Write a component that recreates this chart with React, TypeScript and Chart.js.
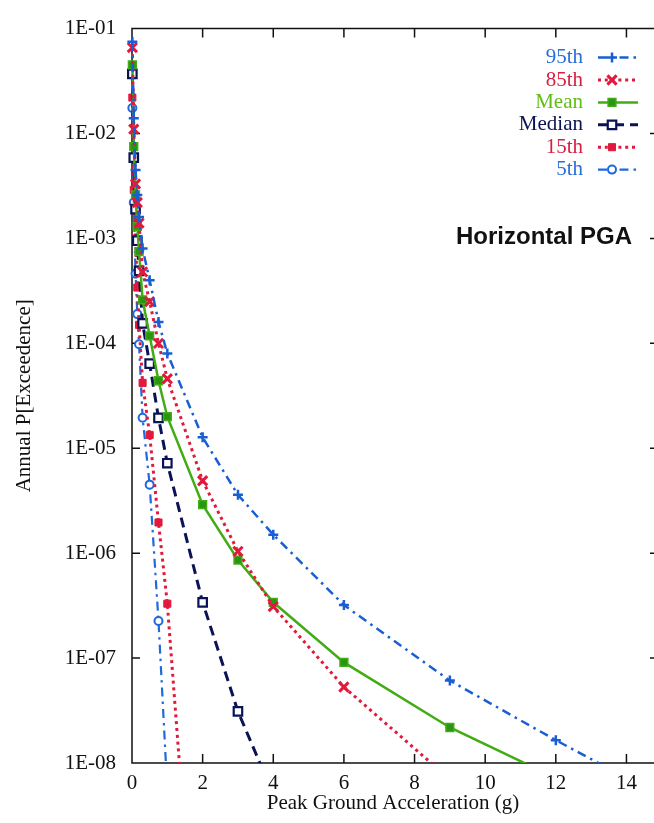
import React, { useEffect, useRef } from 'react';
import { Chart, registerables } from 'chart.js';

Chart.register(...registerables);

// ---- data ----
const PGA = [0.01, 0.05, 0.1, 0.15, 0.2, 0.3, 0.5, 0.75, 1, 2, 3, 4, 6, 9, 12, 14];
const P95 = [7.5e-2, 1.4e-2, 4.5e-3, 2.6e-3, 1.6e-3, 8.0e-4, 4.0e-4, 1.6e-4, 8.0e-5, 1.27e-5, 3.6e-6, 1.5e-6, 3.2e-7, 6.1e-8, 1.65e-8, 7.2e-9];
const P85 = [6.6e-2, 1.1e-2, 3.3e-3, 2.2e-3, 1.4e-3, 4.8e-4, 2.5e-4, 1.0e-4, 4.6e-5, 4.9e-6, 1.04e-6, 3.1e-7, 5.3e-8, 7.0e-9, null, null];
const MEAN = [4.5e-2, 7.5e-3, 2.6e-3, 1.3e-3, 7.5e-4, 2.6e-4, 1.18e-4, 4.4e-5, 2.0e-5, 2.9e-6, 8.6e-7, 3.4e-7, 9.1e-8, 2.18e-8, 7.2e-9, null];
const MEDIAN = [3.7e-2, 5.9e-3, 1.9e-3, 9.5e-4, 4.9e-4, 1.55e-4, 6.4e-5, 1.95e-5, 7.2e-6, 3.4e-7, 3.1e-8, 5.0e-9, null, null, null, null];
const P15 = [2.2e-2, 2.9e-3, 1.0e-3, 3.4e-4, 1.5e-4, 4.2e-5, 1.34e-5, 1.96e-6, 3.3e-7, 1.2e-11, null, null, null, null, null, null];
const P5 = [1.75e-2, 2.2e-3, 4.6e-4, 1.9e-4, 9.8e-5, 1.95e-5, 4.5e-6, 2.26e-7, 5.5e-9, null, null, null, null, null, null, null];

const SERIES_LABELS = ['95th', '85th', 'Mean', 'Median', '15th', '5th'];
const X_TICKS = [0, 2, 4, 6, 8, 10, 12, 14];
const Y_TICKS = [1e-8, 1e-7, 1e-6, 1e-5, 1e-4, 1e-3, 1e-2, 1e-1];
const Y_TICK_LABELS = ['1E-08', '1E-07', '1E-06', '1E-05', '1E-04', '1E-03', '1E-02', '1E-01'];
const X_TITLE = 'Peak Ground Acceleration (g)';
const Y_TITLE = 'Annual P[Exceedence]';
const PANEL_TITLE = 'Horizontal PGA';

const SERIF = '"Liberation Serif", "Times New Roman", serif';

const pts = (arr: (number | null)[]) =>
  PGA.map((x, i) => ({ x, y: arr[i] })).filter((p) => p.y !== null) as { x: number; y: number }[];

function drawMarker(ctx: CanvasRenderingContext2D, style: string, x: number, y: number, r: number, border: string, fill: string, bw: number) {
  ctx.save();
  ctx.setLineDash([]);
  ctx.lineWidth = bw;
  ctx.strokeStyle = border;
  ctx.fillStyle = fill;
  ctx.beginPath();
  if (style === 'cross') {
    ctx.moveTo(x - r, y); ctx.lineTo(x + r, y);
    ctx.moveTo(x, y - r); ctx.lineTo(x, y + r);
    ctx.stroke();
  } else if (style === 'crossRot') {
    const o = r * Math.SQRT1_2;
    ctx.moveTo(x - o, y - o); ctx.lineTo(x + o, y + o);
    ctx.moveTo(x + o, y - o); ctx.lineTo(x - o, y + o);
    ctx.stroke();
  } else if (style === 'rect') {
    const s = r * Math.SQRT1_2;
    ctx.rect(x - s, y - s, 2 * s, 2 * s);
    ctx.fill(); ctx.stroke();
  } else {
    ctx.arc(x, y, r, 0, Math.PI * 2);
    ctx.fill(); ctx.stroke();
  }
  ctx.restore();
}

const framePlugin = {
  id: 'frame',
  beforeDatasetsDraw(chart: any) {
    const { ctx, chartArea: a, scales } = chart;
    const xs = scales.x, ys = scales.y;
    ctx.save();
    ctx.strokeStyle = '#111';
    ctx.lineWidth = 1.5;
    ctx.beginPath();
    ctx.moveTo(a.right, a.top); ctx.lineTo(a.left, a.top); ctx.lineTo(a.left, a.bottom); ctx.lineTo(a.right, a.bottom);
    xs.ticks.forEach((t: any) => {
      const px = xs.getPixelForValue(t.value);
      ctx.moveTo(px, a.bottom); ctx.lineTo(px, a.bottom - 9);
      ctx.moveTo(px, a.top); ctx.lineTo(px, a.top + 9);
    });
    ys.ticks.forEach((t: any) => {
      const py = ys.getPixelForValue(t.value);
      ctx.moveTo(a.left, py); ctx.lineTo(a.left + 8, py);
      ctx.moveTo(a.right, py); ctx.lineTo(a.right - 4, py);
    });
    ctx.stroke();
    ctx.restore();
  },
  afterDraw(chart: any) {
    const { ctx, chartArea: a, scales } = chart;
    ctx.save();
    ctx.font = 'bold 24px "Liberation Sans", Arial, sans-serif';
    ctx.fillStyle = '#111';
    ctx.textAlign = 'left';
    ctx.textBaseline = 'middle';
    ctx.fillText(PANEL_TITLE, a.left + 324, scales.y.getPixelForValue(1e-3) - 1);

    chart.data.datasets.forEach((ds: any, i: number) => {
      const y = a.top + 29 + i * 22.4;
      ctx.font = '21px ' + SERIF;
      ctx.textAlign = 'right';
      ctx.textBaseline = 'middle';
      ctx.fillStyle = ds.legendColor;
      ctx.fillText(ds.label, a.right - 71, y);
      ctx.save();
      ctx.strokeStyle = ds.borderColor;
      ctx.lineWidth = ds.borderWidth;
      ctx.setLineDash(ds.borderDash || []);
      ctx.beginPath();
      ctx.moveTo(a.right - 56, y);
      ctx.lineTo(a.right - 16, y);
      ctx.stroke();
      ctx.restore();
      drawMarker(ctx, ds.pointStyle, a.right - 42, y, ds.pointRadius, ds.pointBorderColor, ds.pointBackgroundColor, ds.pointBorderWidth);
    });
    ctx.restore();
  },
};

const C95 = 'rgb(25,95,210)';
const C85 = 'rgb(225,25,60)';
const CMEAN = 'rgb(65,172,20)';
const CMED = 'rgb(10,20,85)';
const C15 = 'rgb(225,25,60)';
const C5 = 'rgb(30,105,220)';

export default function App() {
  const ref = useRef<HTMLCanvasElement>(null);
  useEffect(() => {
    document.body.style.margin = '0';
    const clip = { left: 12, top: 12, right: 0, bottom: 0 };
    const chart = new Chart(ref.current as HTMLCanvasElement, {
      type: 'line',
      data: {
        datasets: [
          {
            label: SERIES_LABELS[0], data: pts(P95), borderColor: C95, borderWidth: 2.5, borderDash: [9, 5, 2.5, 5],
            pointStyle: 'cross', pointRadius: 5, pointBorderColor: C95, pointBackgroundColor: C95, pointBorderWidth: 2.5,
            legendColor: 'rgb(40,110,215)', clip,
          },
          {
            label: SERIES_LABELS[1], data: pts(P85), borderColor: C85, borderWidth: 3, borderDash: [3, 3.8],
            pointStyle: 'crossRot', pointRadius: 6.5, pointBorderColor: C85, pointBackgroundColor: C85, pointBorderWidth: 3,
            legendColor: 'rgb(215,30,65)', clip,
          },
          {
            label: SERIES_LABELS[2], data: pts(MEAN), borderColor: CMEAN, borderWidth: 2.5, borderDash: [],
            pointStyle: 'rect', pointRadius: 5.5, pointBorderColor: CMEAN, pointBackgroundColor: 'rgb(40,150,20)', pointBorderWidth: 1.5,
            legendColor: 'rgb(95,190,20)', clip,
          },
          {
            label: SERIES_LABELS[3], data: pts(MEDIAN), borderColor: CMED, borderWidth: 3, borderDash: [10, 6],
            pointStyle: 'rect', pointRadius: 6, pointBorderColor: CMED, pointBackgroundColor: '#ffffff', pointBorderWidth: 2.2,
            legendColor: 'rgb(10,20,80)', clip,
          },
          {
            label: SERIES_LABELS[4], data: pts(P15), borderColor: C15, borderWidth: 3, borderDash: [3, 3.8],
            pointStyle: 'rect', pointRadius: 5, pointBorderColor: C15, pointBackgroundColor: C15, pointBorderWidth: 1,
            legendColor: 'rgb(215,30,65)', clip,
          },
          {
            label: SERIES_LABELS[5], data: pts(P5), borderColor: C5, borderWidth: 2.2, borderDash: [9, 5, 2.5, 5],
            pointStyle: 'circle', pointRadius: 4, pointBorderColor: C5, pointBackgroundColor: '#ffffff', pointBorderWidth: 2,
            legendColor: 'rgb(40,110,215)', clip,
          },
        ] as any,
      },
      options: {
        animation: false,
        responsive: false,
        events: [],
        layout: { autoPadding: false, padding: { top: 16, left: 0, right: 0, bottom: 0 } },
        plugins: { legend: { display: false }, tooltip: { enabled: false } },
        scales: {
          x: {
            type: 'linear',
            min: 0,
            max: 14.78,
            afterBuildTicks: (s: any) => { s.ticks = X_TICKS.map((v) => ({ value: v })); },
            afterFit: (s: any) => { s.height = 60; s.paddingRight = 0; s.paddingLeft = 0; },
            grid: { display: true, drawOnChartArea: false, drawTicks: false },
            border: { display: false },
            ticks: { padding: 8, color: '#111', font: { family: SERIF, size: 21 }, callback: (v: any) => String(v), maxRotation: 0 },
            title: { display: true, text: X_TITLE, color: '#111', font: { family: SERIF, size: 21 }, padding: { top: 0, bottom: 7 } },
          },
          y: {
            type: 'logarithmic',
            min: 1e-8,
            max: 1e-1,
            afterBuildTicks: (s: any) => { s.ticks = Y_TICKS.map((v) => ({ value: v })); },
            afterFit: (s: any) => { s.width = 132; },
            grid: { display: true, drawOnChartArea: false, drawTicks: false },
            border: { display: false },
            ticks: { padding: 16, color: '#111', font: { family: SERIF, size: 21 }, callback: (_v: any, i: number) => Y_TICK_LABELS[i] },
            title: { display: true, text: Y_TITLE, color: '#111', font: { family: SERIF, size: 21 }, padding: { top: 12, bottom: 0 } },
          },
        },
      } as any,
      plugins: [framePlugin],
    });
    return () => chart.destroy();
  }, []);
  return (
    <div style={{ width: 654, height: 823, background: '#fff' }}>
      <canvas ref={ref} width={654} height={823} style={{ display: 'block' }} />
    </div>
  );
}
